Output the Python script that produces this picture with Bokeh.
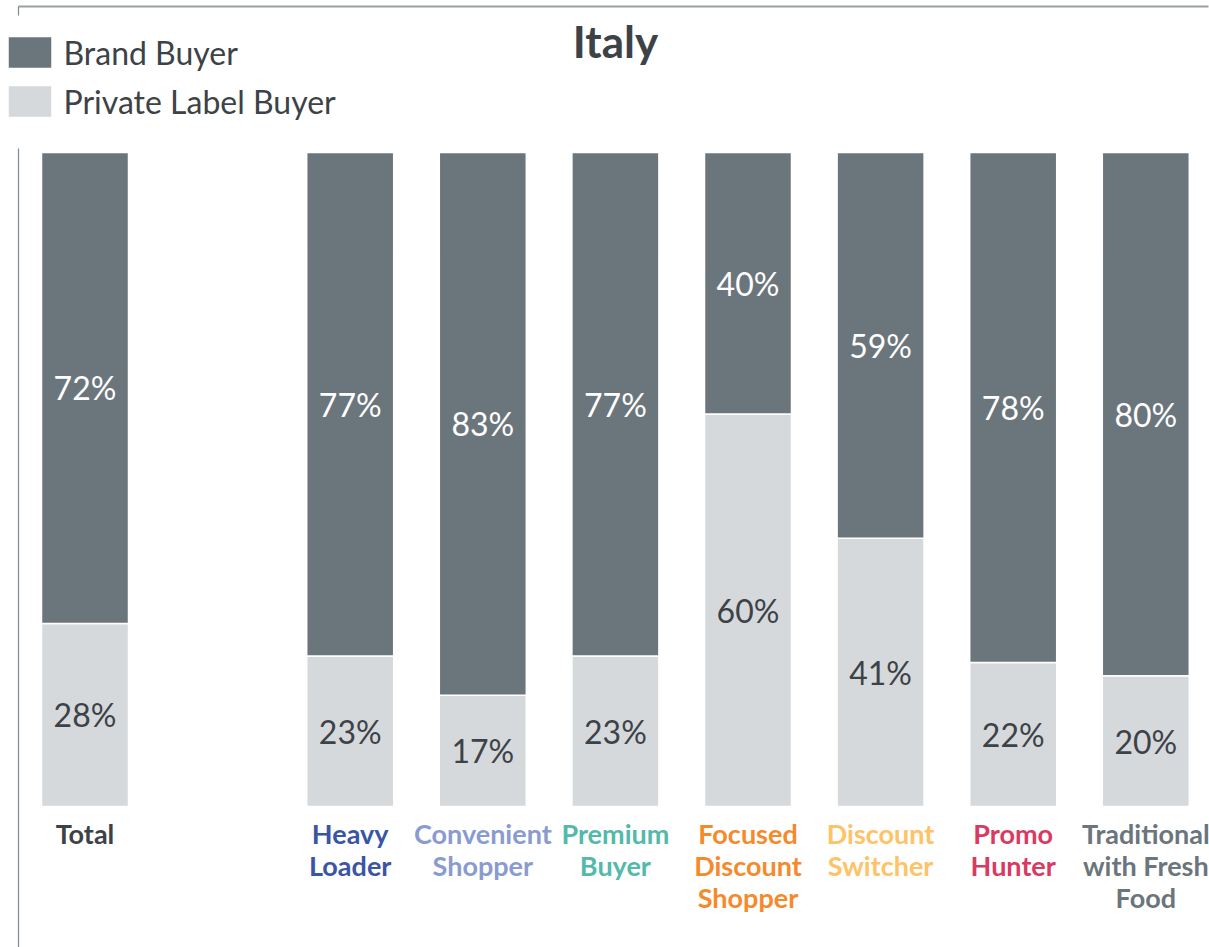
from bokeh.plotting import figure
from bokeh.models import ColumnDataSource, Legend, LegendItem, Label, Range1d
from bokeh.core.properties import value
from bokeh.embed import file_html
from bokeh.resources import INLINE

# ---- data ----
categories = ["Total", "Heavy\nLoader", "Convenient\nShopper", "Premium\nBuyer",
              "Focused\nDiscount\nShopper", "Discount\nSwitcher", "Promo\nHunter",
              "Traditional\nwith Fresh\nFood"]
slots = [0, 2, 3, 4, 5, 6, 7, 8]  # empty slot after Total
brand = [72, 77, 83, 77, 40, 59, 78, 80]
private = [28, 23, 17, 23, 60, 41, 22, 20]
cat_colors = ["#3d4247", "#3a55a4", "#8a9bd0", "#52b9ab", "#f58a2c",
              "#fec267", "#d93a61", "#6b757c"]
series_names = ["Brand Buyer", "Private Label Buyer"]
DARK = "#6b757c"
LIGHT = "#d5d9dc"
TXT = "#3d4247"
FONT = "Lato"

# ---- layout (pixels in canvas) ----
W, H = 1209, 947
slot_px = 132.6
x_origin_px = 18.2           # canvas x of slot -0.5
zero_px = 806.0              # canvas y (from top) of 0 %
unit_px = 654.0 / 100.0      # px per percentage point

x_start = -0.5 - x_origin_px / slot_px
x_end = x_start + W / slot_px
y_end = zero_px / unit_px
y_start = -(H - zero_px) / unit_px

def dx(px):
    return x_start + px / slot_px

def dy(py):
    return y_end - py / unit_px

p = figure(width=W, height=H, output_backend="svg", toolbar_location=None,
           x_axis_type=None, y_axis_type=None, min_border=0,
           x_range=Range1d(x_start, x_end), y_range=Range1d(y_start, y_end))
p.outline_line_color = None
p.xgrid.visible = False
p.ygrid.visible = False
p.background_fill_color = "white"
p.border_fill_color = "white"

src = ColumnDataSource(dict(
    x=slots, brand=brand, private=private,
    pmid=[v / 2 for v in private],
    bmid=[pv + bv / 2 for pv, bv in zip(private, brand)],
    plab=[f"{v}%" for v in private], blab=[f"{v}%" for v in brand],
    cat=categories, ccol=cat_colors, zero=[0] * len(slots)))

rs = p.vbar_stack(["private", "brand"], x="x", width=87 / slot_px, source=src,
                  color=[LIGHT, DARK], line_color="white", line_width=1.5)

p.text(x="x", y="pmid", text="plab", source=src, text_align="center",
       text_baseline="middle", text_color=TXT, text_font=value(FONT),
       text_font_size="32px")
p.text(x="x", y="bmid", text="blab", source=src, text_align="center",
       text_baseline="middle", text_color="white", text_font=value(FONT),
       text_font_size="32px")
p.text(x="x", y="zero", text="cat", source=src, text_align="center",
       text_baseline="top", text_color="ccol", text_font=value(FONT),
       text_font_size="27px", text_font_style="bold", y_offset=10,
       text_line_height=0.98)

# decorative frame lines
p.segment(x0=[dx(18)], y0=[dy(148)], x1=[dx(18)], y1=[dy(H)],
          line_color="#7d8995", line_width=1.2)
p.segment(x0=[dx(18)], y0=[dy(6)], x1=[dx(1208)], y1=[dy(6)],
          line_color="#9a9fa3", line_width=2.2)
p.segment(x0=[dx(18)], y0=[dy(6)], x1=[dx(18)], y1=[dy(15)],
          line_color="#7d8995", line_width=1.2)

legend = Legend(items=[LegendItem(label=series_names[0], renderers=[rs[1]]),
                       LegendItem(label=series_names[1], renderers=[rs[0]])],
                location=(1.5, 826), orientation="vertical",
                glyph_width=55, glyph_height=40, spacing=9, padding=0,
                margin=0, label_standoff=7, border_line_color=None,
                background_fill_alpha=0, label_text_font=FONT,
                label_text_font_size="32px", label_text_color=TXT,
                label_text_baseline="middle")
p.add_layout(legend)

p.add_layout(Label(x=615, y=H - 40, x_units="screen", y_units="screen",
                   text="Italy", text_align="center", text_baseline="middle",
                   text_font=FONT, text_font_size="44px",
                   text_font_style="bold", text_color=TXT))

open("out.html", "w").write(file_html(p, INLINE))
